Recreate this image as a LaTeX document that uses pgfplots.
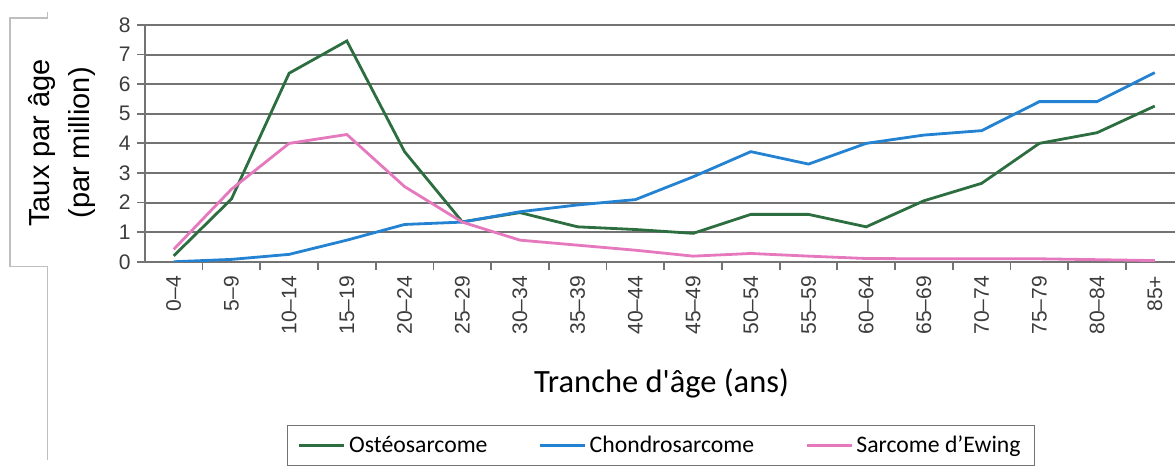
\documentclass[border=0pt]{standalone}
\usepackage{fontspec}
\setmainfont{Liberation Sans}
\newfontfamily\carlito{Carlito}
\usepackage{pgfplots}
\pgfplotsset{compat=1.18}
\definecolor{osteo}{RGB}{45,110,65}
\definecolor{chondro}{RGB}{35,130,210}
\definecolor{ewing}{RGB}{230,120,190}
\definecolor{gridc}{RGB}{115,115,115}
\definecolor{boxc}{RGB}{190,190,190}
\definecolor{labc}{RGB}{60,60,60}

\pgfplotstableread{
i osteo chondro ewing
0  0.20 0.00 0.42
1  2.12 0.08 2.45
2  6.37 0.25 4.00
3  7.46 0.73 4.30
4  3.72 1.26 2.54
5  1.35 1.34 1.34
6  1.66 1.69 0.73
7  1.18 1.92 0.56
8  1.09 2.10 0.39
9  0.96 2.87 0.19
10 1.60 3.72 0.28
11 1.60 3.30 0.19
12 1.18 4.00 0.11
13 2.06 4.28 0.10
14 2.65 4.43 0.10
15 4.00 5.41 0.10
16 4.36 5.41 0.07
17 5.26 6.39 0.04
}\rates

\begin{document}
\begin{tikzpicture}
\begin{scope}[x=0.02cm, y=-0.02cm, yshift=9.08cm]
\useasboundingbox (0,0) rectangle (1176,454);
\draw[boxc, line width=0.6pt] (48,12) -- (48,18) -- (10,18) -- (10,267) -- (48,267) -- (48,460);
\node[rotate=90, align=center, font=\fontsize{16.5}{23}\selectfont] at (62,143) {Taux par âge\\(par million)};
\node[font=\carlito\fontsize{18.5}{22}\selectfont] at (662,384) {Tranche d'âge (ans)};
\end{scope}
\begin{axis}[
    at={(2.9cm,3.84cm)}, anchor=south west,
    scale only axis,
    width=20.62cm, height=4.74cm,
    xmin=-0.5, xmax=17.35, ymin=0, ymax=8,
    axis x line*=bottom, axis y line*=left,
    axis line style={gridc, line width=1.2pt},
    ymajorgrids,
    grid style={gridc, line width=1.2pt},
    xtick={0,...,17},
    xticklabels={0–4,5–9,10–14,15–19,20–24,25–29,30–34,35–39,40–44,45–49,50–54,55–59,60–64,65–69,70–74,75–79,80–84,85+},
    major x tick style={draw=none},
    minor xtick={0.5,1.5,...,16.5},
    minor x tick style={gridc, line width=1pt},
    ytick={0,...,8},
    major y tick style={gridc, line width=1pt},
    tick align=outside,
    major tick length=0.16cm, minor tick length=0.16cm,
    xticklabel style={rotate=90, anchor=east, font=\fontsize{12}{14}\selectfont, text=labc},
    yticklabel style={font=\fontsize{12}{14}\selectfont, text=labc},
    /pgf/number format/assume math mode=true,
    legend style={at={(0.1377,-0.688)}, anchor=north west, legend columns=3,
        draw=gridc, line width=0.8pt, font=\carlito\fontsize{13.5}{16}\selectfont,
        inner xsep=6pt, inner ysep=4pt,
        /tikz/every even column/.append style={column sep=0.95cm}},
    legend image code/.code={\draw[#1] (0cm,0cm) -- (0.9cm,0cm);},
]
\addplot[osteo, line width=1.6pt] table[x=i, y=osteo] {\rates};
\addlegendentry{Ostéosarcome}
\addplot[chondro, line width=1.6pt] table[x=i, y=chondro] {\rates};
\addlegendentry{Chondrosarcome}
\addplot[ewing, line width=1.6pt] table[x=i, y=ewing] {\rates};
\addlegendentry{Sarcome d’Ewing\hspace{0.35cm}}
\end{axis}
\end{tikzpicture}
\end{document}
